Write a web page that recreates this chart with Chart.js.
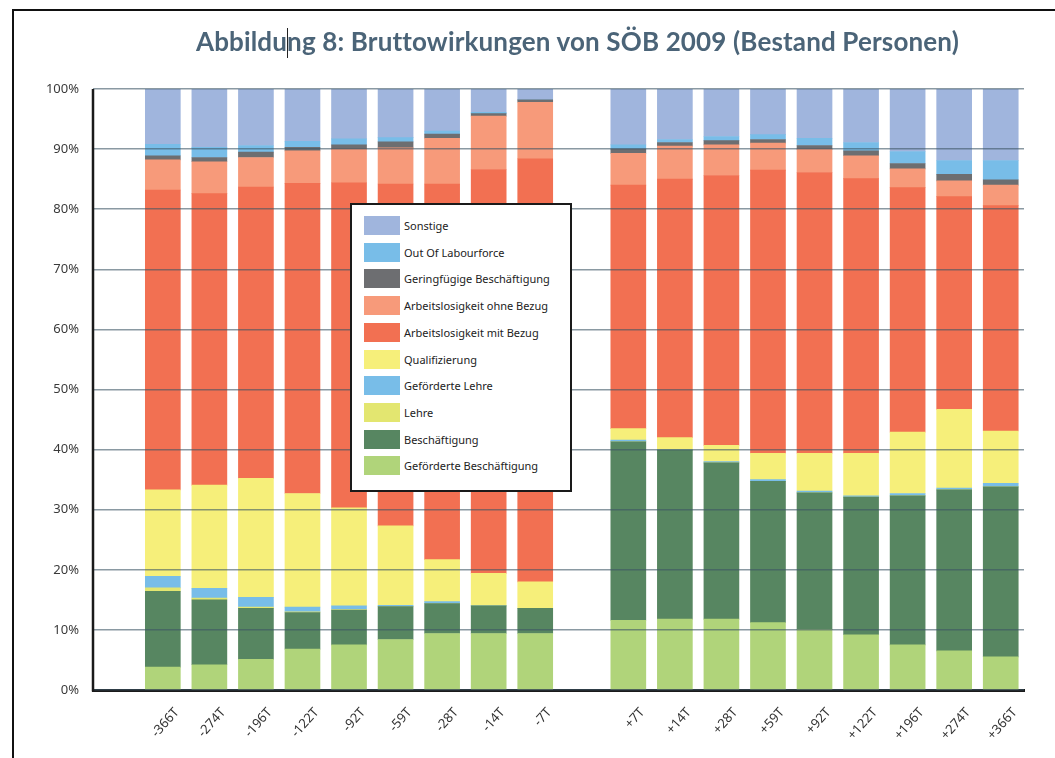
<!DOCTYPE html>
<html>
<head>
<meta charset="utf-8">
<script src="https://cdn.jsdelivr.net/npm/chart.js@4"></script>
<style>
  body { margin: 0; background: #fff; }
  #wrap { position: relative; width: 1055px; height: 758px; overflow: hidden; }
  #title { position: absolute; left: 196px; top: 25px; font: bold 26px Lato, sans-serif; letter-spacing: 0.15px; color: #4b6478; white-space: nowrap; }
  .caret { display: inline-block; width: 0; height: 30px; border-left: 1px solid #222; margin-right: -1px; vertical-align: -7px; }
  #legend { position: absolute; left: 350px; top: 203px; width: 218px; height: 285px; border: 2px solid #1a1a1a; background: #fff; }
  .item { position: absolute; left: 12px; height: 19px; font: 11px "Noto Sans", sans-serif; color: #222; line-height: 19px; white-space: nowrap; }
  .sw { display: inline-block; width: 36px; height: 19px; vertical-align: top; margin-right: 4px; }
  canvas { position: absolute; left: 0; top: 0; }
</style>
</head>
<body>
<div id="wrap">
  <canvas id="chart" width="1055" height="758"></canvas>
  <div id="title">Abbildu<span class="caret"></span>ng 8: Bruttowirkungen von SÖB 2009 (Bestand Personen)</div>
  <div id="legend"></div>
</div>
<script>
const categories = ['', '-366T', '-274T', '-196T', '-122T', '-92T', '-59T', '-28T', '-14T', '-7T',
  '', '+7T', '+14T', '+28T', '+59T', '+92T', '+122T', '+196T', '+274T', '+366T'];

const gefBeschaeftigung = [null, 3.8, 4.2, 5.1, 6.8, 7.5, 8.4, 9.4, 9.4, 9.4, null, 11.6, 11.8, 11.8, 11.2, 10.1, 9.2, 7.5, 6.5, 5.5];
const beschaeftigung    = [null, 12.6, 10.8, 8.5, 6.1, 5.8, 5.5, 5.0, 4.6, 4.2, null, 29.7, 28.1, 26.0, 23.5, 22.7, 22.9, 24.8, 26.8, 28.3];
const lehre             = [null, 0.6, 0.3, 0.2, 0.1, 0.1, 0, 0, 0, 0, null, 0, 0, 0, 0, 0, 0, 0, 0, 0];
const gefLehre          = [null, 1.9, 1.6, 1.6, 0.8, 0.6, 0.2, 0.3, 0.1, 0, null, 0.3, 0.1, 0.2, 0.3, 0.3, 0.2, 0.4, 0.3, 0.6];
const qualifizierung    = [null, 14.4, 17.2, 19.8, 18.9, 16.3, 13.2, 7.0, 5.3, 4.4, null, 1.9, 2.0, 2.7, 4.4, 6.3, 7.1, 10.2, 13.1, 8.7];
const alMitBezug        = [null, 49.9, 48.5, 48.5, 51.6, 54.1, 56.9, 62.5, 67.2, 70.4, null, 40.5, 43.0, 44.9, 47.1, 46.7, 45.7, 40.7, 35.4, 37.5];
const alOhneBezug       = [null, 5.0, 5.3, 4.9, 5.4, 5.6, 6.0, 7.6, 8.9, 9.4, null, 5.3, 5.5, 5.1, 4.5, 3.9, 3.8, 3.1, 2.6, 3.4];
const geringfuegig      = [null, 0.7, 0.7, 0.9, 0.6, 0.7, 1.0, 0.7, 0.4, 0.4, null, 0.7, 0.6, 0.7, 0.6, 0.6, 0.8, 0.9, 1.1, 0.9];
const outOfLabourforce  = [null, 1.9, 1.7, 1.1, 1.0, 1.0, 0.7, 0.5, 0.2, 0, null, 0.7, 0.5, 0.7, 0.8, 1.2, 1.4, 2.0, 2.3, 3.2];
const sonstige          = [null, 9.2, 9.7, 9.4, 8.7, 8.3, 8.1, 7.0, 3.9, 1.8, null, 9.3, 8.4, 7.9, 7.6, 8.2, 8.9, 10.4, 11.9, 11.9];

const yTicks = [0, 10, 20, 30, 40, 50, 60, 70, 80, 90, 100];

// bottom to top
const series = [
  { label: 'Geförderte Beschäftigung', data: gefBeschaeftigung, color: '#b0d47a' },
  { label: 'Beschäftigung', data: beschaeftigung, color: '#578661' },
  { label: 'Lehre', data: lehre, color: '#e3e670' },
  { label: 'Geförderte Lehre', data: gefLehre, color: '#78bde8' },
  { label: 'Qualifizierung', data: qualifizierung, color: '#f6ef7a' },
  { label: 'Arbeitslosigkeit mit Bezug', data: alMitBezug, color: '#f27052' },
  { label: 'Arbeitslosigkeit ohne Bezug', data: alOhneBezug, color: '#f79a7a' },
  { label: 'Geringfügige Beschäftigung', data: geringfuegig, color: '#6d6e71' },
  { label: 'Out Of Labourforce', data: outOfLabourforce, color: '#78bde8' },
  { label: 'Sonstige', data: sonstige, color: '#a0b5dd' }
];

// html legend, top item first
const legend = document.getElementById('legend');
series.slice().reverse().forEach((s, i) => {
  const div = document.createElement('div');
  div.className = 'item';
  div.style.top = (11 + i * 26.7) + 'px';
  div.innerHTML = '<span class="sw" style="background:' + s.color + '"></span>' + s.label;
  legend.appendChild(div);
});

// page frame (top + left edge of the scanned page) and the y axis line
const framePlugin = {
  id: 'frame',
  afterDraw(chart) {
    const c = chart.ctx;
    const area = chart.chartArea;
    c.save();
    c.strokeStyle = '#111';
    c.lineWidth = 2;
    c.beginPath();
    c.moveTo(13, 758);
    c.lineTo(13, 10);
    c.lineTo(1055, 10);
    c.stroke();
    c.strokeStyle = '#1a1a1a';
    c.lineWidth = 2.5;
    c.beginPath();
    c.moveTo(area.left, area.top);
    c.lineTo(area.left, area.bottom + 1.5);
    c.stroke();
    c.restore();
  }
};

const ctx = document.getElementById('chart').getContext('2d');
new Chart(ctx, {
  type: 'bar',
  data: {
    labels: categories,
    datasets: series.map(s => ({
      label: s.label,
      data: s.data,
      backgroundColor: s.color,
      borderWidth: 0,
      barThickness: 35
    }))
  },
  options: {
    responsive: false,
    animation: false,
    layout: { padding: { top: 89, right: 31, left: 0, bottom: 0 } },
    plugins: {
      legend: { display: false },
      title: { display: false },
      tooltip: { enabled: false }
    },
    scales: {
      x: {
        stacked: true,
        grid: { display: false },
        border: { display: true, color: '#1a1a1a', width: 3 },
        ticks: {
          autoSkip: false,
          maxRotation: 48,
          minRotation: 48,
          padding: 7,
          labelOffset: 14,
          color: '#333',
          font: { family: 'Noto Sans', size: 13 }
        },
        afterFit: scale => { scale.height = 68; }
      },
      y: {
        stacked: true,
        min: 0,
        max: 100,
        afterBuildTicks: scale => { scale.ticks = yTicks.map(v => ({ value: v })); },
        grid: {
          color: 'rgba(60, 85, 100, 0.6)',
          lineWidth: 1.5,
          drawTicks: false,
          z: 1
        },
        border: { display: false },
        ticks: {
          padding: 14,
          color: '#3a3a3a',
          font: { family: 'Noto Sans', size: 13 },
          callback: v => v + '%'
        },
        afterFit: scale => { scale.width = 93; }
      }
    }
  },
  plugins: [framePlugin]
});
</script>
</body>
</html>
